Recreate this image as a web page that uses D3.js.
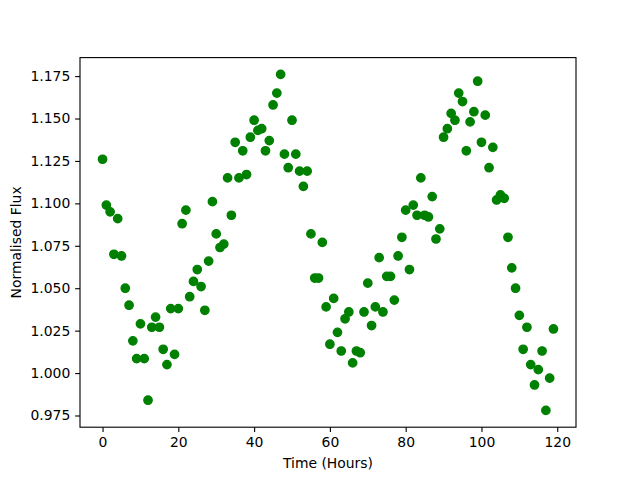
<!DOCTYPE html>
<html>
<head>
<meta charset="utf-8">
<script src="https://cdn.jsdelivr.net/npm/d3@7"></script>
<style>
  body { margin: 0; background: #fff; }
  svg { display: block; font-family: "DejaVu Sans", sans-serif; }
</style>
</head>
<body>
<svg id="chart" width="640" height="480"></svg>
<script>
// hourly samples, 0..119
const hours = d3.range(0, 120);
const flux = [
  1.126, 1.099, 1.095, 1.070, 1.091, 1.069, 1.050, 1.040, 1.019, 1.0085,
  1.029, 1.0085, 0.984, 1.027, 1.033, 1.027, 1.014, 1.005, 1.038, 1.011,
  1.038, 1.088, 1.096, 1.045, 1.054, 1.061, 1.051, 1.037, 1.066, 1.101,
  1.082, 1.074, 1.076, 1.115, 1.093, 1.136, 1.115, 1.131, 1.117, 1.139,
  1.149, 1.143, 1.144, 1.131, 1.137, 1.158, 1.165, 1.176, 1.129, 1.121,
  1.149, 1.129, 1.119, 1.110, 1.119, 1.082, 1.056, 1.056, 1.077, 1.039,
  1.017, 1.044, 1.024, 1.013, 1.032, 1.036, 1.006, 1.013, 1.012, 1.036,
  1.053, 1.028, 1.039, 1.068, 1.036, 1.057, 1.057, 1.043, 1.069, 1.080,
  1.096, 1.061, 1.099, 1.093, 1.115, 1.093, 1.092, 1.104, 1.079, 1.085,
  1.139, 1.144, 1.153, 1.149, 1.165, 1.160, 1.131, 1.148, 1.154, 1.172,
  1.136, 1.152, 1.121, 1.133, 1.102, 1.105, 1.103, 1.080, 1.062, 1.050,
  1.034, 1.014, 1.027, 1.005, 0.993, 1.002, 1.013, 0.978, 0.997, 1.026
];
const xTicks = [0, 20, 40, 60, 80, 100, 120];
const yTicks = [0.975, 1.000, 1.025, 1.050, 1.075, 1.100, 1.125, 1.150, 1.175];

const data = hours.map((h, i) => ({ t: h, f: flux[i] }));

const svg = d3.select('#chart');
const m = { left: 80, right: 576, top: 57.6, bottom: 427.2 };

// matplotlib style 5% margins
function pad(ext) {
  const d = (ext[1] - ext[0]) * 0.05;
  return [ext[0] - d, ext[1] + d];
}
const x = d3.scaleLinear().domain(pad(d3.extent(hours))).range([m.left, m.right]);
const y = d3.scaleLinear().domain(pad(d3.extent(flux))).range([m.bottom, m.top]);

svg.append('g')
  .selectAll('circle')
  .data(data)
  .join('circle')
  .attr('cx', d => x(d.t))
  .attr('cy', d => y(d.f))
  .attr('r', 4.17)
  .attr('fill', '#008000')
  .attr('stroke', '#008000')
  .attr('stroke-width', 1.39);

const xAxis = svg.append('g')
  .attr('transform', `translate(0,${m.bottom})`)
  .call(d3.axisBottom(x).tickValues(xTicks).tickSize(4.86).tickPadding(4.86).tickFormat(d3.format('d')));
const yAxis = svg.append('g')
  .attr('transform', `translate(${m.left},0)`)
  .call(d3.axisLeft(y).tickValues(yTicks).tickSize(4.86).tickPadding(4.86).tickFormat(d3.format('.3f')));

[xAxis, yAxis].forEach(g => {
  g.select('.domain').remove();
  g.selectAll('line').attr('stroke', '#000').attr('stroke-width', 1.11);
  g.selectAll('text').attr('fill', '#000')
    .style('font-family', '"DejaVu Sans", sans-serif').style('font-size', '13.9px');
});

// frame
svg.append('rect')
  .attr('x', m.left).attr('y', m.top)
  .attr('width', m.right - m.left).attr('height', m.bottom - m.top)
  .attr('fill', 'none').attr('stroke', '#000').attr('stroke-width', 1.11);

svg.append('text')
  .attr('x', (m.left + m.right) / 2).attr('y', 468)
  .attr('text-anchor', 'middle')
  .style('font-size', '13.9px')
  .text('Time (Hours)');

svg.append('text')
  .attr('transform', `translate(21,${(m.top + m.bottom) / 2}) rotate(-90)`)
  .attr('text-anchor', 'middle')
  .style('font-size', '13.9px')
  .text('Normalised Flux');
</script>
</body>
</html>
